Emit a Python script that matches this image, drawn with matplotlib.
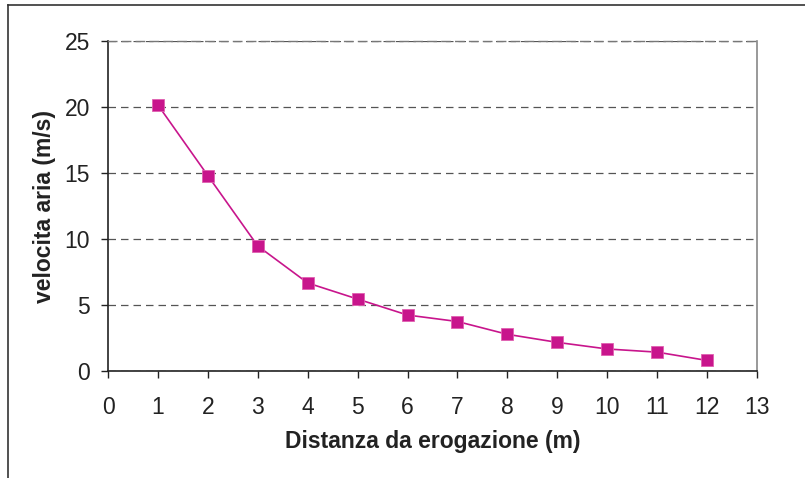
import matplotlib.pyplot as plt
from matplotlib.lines import Line2D

# distanza dal punto di erogazione (m) e velocita dell'aria misurata (m/s)
distanza = [1, 2, 3, 4, 5, 6, 7, 8, 9, 10, 11, 12]
velocita = [20.15, 14.8, 9.47, 6.67, 5.45, 4.24, 3.75, 2.78, 2.17, 1.67, 1.43, 0.8]

x_ticks = list(range(0, 14))
y_ticks = [0, 5, 10, 15, 20, 25]

plt.rcParams['font.family'] = ['Liberation Sans', 'DejaVu Sans']

fig = plt.figure(figsize=(8.05, 4.78), dpi=100)
ax = fig.add_axes([0.1342, 0.2238, 0.8062, 0.6904])

ax.plot(distanza, velocita, color='#C8158C', linewidth=1.2, marker='s',
        markersize=8.5, markerfacecolor='#C8158C', markeredgecolor='#E060B0',
        markeredgewidth=0.6, zorder=3)

ax.set_xlim(0, 13)
ax.set_ylim(0, 25)
ax.set_xticks(x_ticks)
ax.set_yticks(y_ticks)

# griglia orizzontale tratteggiata
ax.yaxis.grid(True, color='#555555', linestyle=(0, (6, 4)), linewidth=0.9)
ax.set_axisbelow(True)

for side in ['left', 'bottom']:
    ax.spines[side].set_color('#222222')
    ax.spines[side].set_linewidth(1.2)
ax.spines['right'].set_color('#888888')
ax.spines['right'].set_linewidth(1.2)
ax.spines['top'].set_color('#777777')
ax.spines['top'].set_linestyle((0, (6, 4)))
ax.spines['top'].set_linewidth(1.0)

ax.tick_params(axis='x', direction='out', length=5, width=1, color='#222222',
               labelsize=16.5, pad=13, labelcolor='#222222')
ax.tick_params(axis='y', direction='out', length=5, width=1, color='#222222',
               labelsize=16.5, pad=8, labelcolor='#222222')

ax.set_xlabel('Distanza da erogazione (m)', fontsize=16.5, fontweight='bold',
              color='#222222', labelpad=8)
ax.set_ylabel('velocita aria (m/s)', fontsize=16.5, fontweight='bold',
              color='#222222', labelpad=6)

# cornice esterna del grafico
fig.add_artist(Line2D([7.5 / 805, 7.5 / 805], [0, 1 - 5 / 478],
                      transform=fig.transFigure, color='#333333', linewidth=1.2))
fig.add_artist(Line2D([7.5 / 805, 1], [1 - 5 / 478, 1 - 5 / 478],
                      transform=fig.transFigure, color='#333333', linewidth=1.2))

fig.savefig('out.png', dpi=100)
